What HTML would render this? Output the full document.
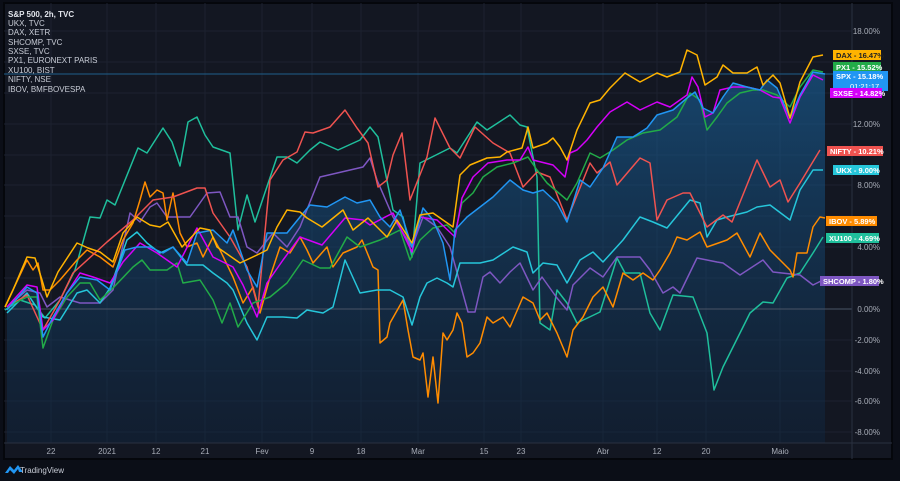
<!DOCTYPE html>
<html><head><meta charset="utf-8"><style>
html,body{margin:0;padding:0;background:#0b0e17;width:900px;height:481px;overflow:hidden}
svg{display:block}
text{font-family:"Liberation Sans",sans-serif}
</style></head><body>
<svg width="900" height="481" viewBox="0 0 900 481">
<defs>
<linearGradient id="g" x1="0" y1="0" x2="0" y2="1">
<stop offset="0" stop-color="#1a6aa8" stop-opacity="0.55"/>
<stop offset="1" stop-color="#0e2a48" stop-opacity="0.35"/>
</linearGradient>
</defs>
<rect x="0" y="0" width="900" height="481" fill="#0b0e17"/>
<rect x="4" y="3" width="888" height="456" fill="#131722" stroke="#05070c" stroke-width="2"/>
<g stroke="#1c2230" stroke-width="1">
<line x1="4" y1="31" x2="852" y2="31"/><line x1="4" y1="62" x2="852" y2="62"/><line x1="4" y1="93" x2="852" y2="93"/><line x1="4" y1="124" x2="852" y2="124"/><line x1="4" y1="155" x2="852" y2="155"/><line x1="4" y1="185" x2="852" y2="185"/><line x1="4" y1="216" x2="852" y2="216"/><line x1="4" y1="247" x2="852" y2="247"/><line x1="4" y1="278" x2="852" y2="278"/><line x1="4" y1="340" x2="852" y2="340"/><line x1="4" y1="371" x2="852" y2="371"/><line x1="4" y1="401" x2="852" y2="401"/><line x1="4" y1="432" x2="852" y2="432"/>
<line x1="51" y1="3" x2="51" y2="443"/><line x1="107" y1="3" x2="107" y2="443"/><line x1="156" y1="3" x2="156" y2="443"/><line x1="205" y1="3" x2="205" y2="443"/><line x1="262" y1="3" x2="262" y2="443"/><line x1="312" y1="3" x2="312" y2="443"/><line x1="361" y1="3" x2="361" y2="443"/><line x1="418" y1="3" x2="418" y2="443"/><line x1="484" y1="3" x2="484" y2="443"/><line x1="521" y1="3" x2="521" y2="443"/><line x1="603" y1="3" x2="603" y2="443"/><line x1="657" y1="3" x2="657" y2="443"/><line x1="706" y1="3" x2="706" y2="443"/><line x1="780" y1="3" x2="780" y2="443"/>
</g>
<polygon fill="url(#g)" points="7,310 27,287 37,293 43,337 53,317 67,293 80,277 97,280 110,290 125,250 137,247 150,247 163,253 173,247 187,263 197,233 213,230 227,243 233,230 247,270 257,287 267,233 287,233 300,217 310,205 327,207 345,197 357,203 370,200 380,217 390,227 400,210 412,247 423,208 433,220 443,243 450,280 455,230 467,217 480,207 493,197 510,180 523,190 533,193 543,190 557,203 567,222 580,180 590,187 603,168 617,137 633,137 647,128 657,115 673,110 687,98 695,92 703,108 713,113 723,97 733,83 747,87 760,90 767,80 777,88 790,118 800,95 813,72 825,74 825,443 7,443"/>
<line x1="4" y1="309" x2="852" y2="309" stroke="#4a5466" stroke-width="1"/>
<line x1="4" y1="74" x2="852" y2="74" stroke="#1f5f8c" stroke-width="1"/>
<line x1="852" y1="3" x2="852" y2="459" stroke="#2a3040" stroke-width="1"/>
<line x1="4" y1="443" x2="892" y2="443" stroke="#2a3040" stroke-width="1"/>
<g fill="none" stroke-width="1.5" stroke-linejoin="round">
<polyline stroke="#1fbf9c" points="5,310 20,300 35,305 45,318 60,300 75,270 90,217 100,218 107,200 115,205 138,148 147,153 163,128 172,142 180,166 188,122 197,117 205,135 213,147 230,153 238,230 247,195 255,222 277,157 287,157 297,163 310,150 320,142 338,150 360,140 370,127 378,137 393,210 403,217 412,257 420,163 450,148 457,153 477,122 487,130 510,115 520,125 527,127 537,177 540,323 550,330 557,290 567,303 577,323 600,312 617,258 625,273 640,273 650,313 660,330 673,295 693,297 707,333 714,390 723,367 740,333 750,313 763,302 773,303 787,278 800,273 813,253 823,237"/>
<polyline stroke="#7e57c2" points="7,307 27,290 40,293 47,307 60,297 80,303 100,303 113,290 130,213 140,222 150,207 157,203 167,217 190,217 207,193 220,192 230,217 238,217 247,247 257,253 273,233 287,247 300,227 320,177 363,167 370,158 377,180 393,217 412,247 423,217 437,227 450,247 468,312 475,312 483,277 490,272 500,283 510,272 520,263 533,290 542,277 557,298 567,310 573,285 590,268 603,277 617,257 640,257 650,270 663,293 673,287 680,293 697,258 717,262 723,263 740,275 763,260 773,272 800,275 813,285 823,280"/>
<polyline stroke="#ff8c00" points="5,307 27,260 33,270 38,263 43,290 50,290 60,280 77,260 87,250 100,257 113,267 123,240 133,223 140,200 145,182 150,197 157,190 163,193 167,220 173,193 180,233 187,247 197,243 203,257 213,237 220,250 233,277 243,303 253,287 260,313 270,277 280,247 290,253 300,237 307,250 313,263 327,247 333,267 343,253 357,247 362,240 373,267 378,270 380,343 387,337 390,323 403,300 408,330 413,357 420,360 423,353 428,397 433,357 438,403 443,333 447,340 453,330 457,313 462,323 467,357 473,353 480,343 487,317 493,323 503,317 510,327 523,297 533,303 540,320 547,313 557,333 567,357 573,330 583,317 593,297 603,287 613,307 623,273 633,280 643,273 653,280 660,270 670,253 677,237 687,240 700,232 707,247 727,240 737,233 750,257 760,233 770,250 780,260 790,270 793,277 797,253 807,253 813,227 820,217 825,218"/>
<polyline stroke="#26c6da" points="7,313 27,293 43,317 60,320 77,293 87,290 100,303 110,288 127,240 137,232 147,243 160,253 173,247 187,265 203,265 213,273 227,283 233,290 247,323 257,340 267,317 283,317 297,318 307,310 323,313 333,307 345,260 360,293 377,290 390,290 403,297 412,325 420,297 427,283 437,278 447,283 453,287 460,263 480,263 493,260 513,247 527,252 533,273 543,263 557,265 567,283 580,260 593,252 603,262 623,240 640,217 653,222 667,228 690,200 700,203 707,237 717,220 727,217 747,212 757,207 770,205 790,220 800,190 813,170 823,170"/>
<polyline stroke="#ef5350" points="7,307 27,295 43,330 60,300 73,273 107,242 133,220 153,200 173,197 197,188 205,188 213,213 230,237 247,267 258,307 267,210 270,180 283,160 297,152 305,132 313,133 330,127 345,110 357,128 368,143 378,187 387,180 393,155 402,133 410,200 427,157 435,118 450,148 460,158 475,127 493,143 510,153 523,187 537,172 550,177 567,220 590,163 597,173 610,162 617,185 640,158 650,163 657,220 667,200 683,193 690,193 707,227 723,215 732,222 757,160 770,187 780,180 788,202 800,183 820,150"/>
<polyline stroke="#22ab48" points="7,307 27,297 37,297 43,348 53,320 67,297 80,283 90,283 100,300 113,288 133,267 142,260 150,270 167,270 177,263 183,283 200,280 213,300 222,323 230,303 238,327 253,303 270,297 287,283 303,260 320,268 330,268 347,237 360,247 380,240 400,230 410,260 420,240 433,228 447,225 455,233 462,203 473,193 483,177 497,167 513,163 528,157 537,170 547,183 567,200 577,183 590,153 600,158 613,150 627,140 643,133 660,130 677,117 690,93 700,100 707,130 717,117 727,103 740,93 753,90 763,90 777,95 790,107 800,87 813,70 823,72"/>
<polyline stroke="#d500f9" points="7,307 27,285 37,287 43,330 53,320 67,293 80,273 93,277 110,283 123,262 140,243 157,253 177,267 197,228 213,257 233,267 243,285 257,317 267,283 283,260 300,237 322,245 345,218 363,220 370,225 393,213 412,252 420,217 437,220 455,237 462,198 473,177 488,163 507,160 520,160 528,147 533,160 553,165 565,177 570,153 577,150 587,140 597,127 610,112 627,102 640,110 657,102 670,107 687,95 692,77 698,87 705,117 713,113 720,90 733,87 747,87 760,90 773,97 780,98 790,123 800,97 813,75 823,80"/>
<polyline stroke="#2196f3" points="7,310 27,287 37,293 43,337 53,317 67,293 80,277 97,280 110,290 125,250 137,247 150,247 163,253 173,247 187,263 197,233 213,230 227,243 233,230 247,270 257,287 267,233 287,233 300,217 310,205 327,207 345,197 357,203 370,200 380,217 390,227 400,210 412,247 423,208 433,220 443,243 450,280 455,230 467,217 480,207 493,197 510,180 523,190 533,193 543,190 557,203 567,222 580,180 590,187 603,168 617,137 633,137 647,128 657,115 673,110 687,98 695,92 703,108 713,113 723,97 733,83 747,87 760,90 767,80 777,88 790,118 800,95 813,72 825,74"/>
<polyline stroke="#ffb300" points="5,307 13,290 27,257 35,258 42,280 47,297 58,272 77,243 88,248 100,252 113,262 123,233 137,217 150,225 160,227 168,222 182,247 200,228 210,230 217,247 240,263 257,255 267,250 277,227 287,210 300,212 307,218 322,227 343,210 353,230 368,218 387,237 397,220 412,243 420,215 433,213 453,227 460,175 470,165 487,158 500,157 507,152 522,148 528,127 533,148 547,143 553,138 560,147 567,160 577,130 590,103 600,100 610,88 625,73 640,82 657,73 667,77 680,72 687,50 697,55 705,85 717,77 723,65 733,73 747,73 757,67 763,85 773,75 780,83 790,118 800,82 813,57 823,55"/>
</g>
<g fill="#a8adb8" font-size="8" text-anchor="end">
<text x="880" y="34">18.00%</text><text x="880" y="127">12.00%</text><text x="880" y="188">8.00%</text><text x="880" y="250">4.00%</text><text x="880" y="312">0.00%</text><text x="880" y="343">-2.00%</text><text x="880" y="374">-4.00%</text><text x="880" y="404">-6.00%</text><text x="880" y="435">-8.00%</text>
</g>
<g font-size="7.5" font-weight="bold" fill="#fff">
<rect x="833" y="50" width="48" height="10" fill="#ffb300"/><text x="836" y="58" fill="#222">DAX - 16.47%</text>
<rect x="833" y="62" width="48" height="10" fill="#22ab48"/><text x="836" y="70">PX1 - 15.52%</text>
<rect x="833" y="71" width="55" height="20" fill="#2196f3"/><text x="836" y="79">SPX - 15.18%</text><text x="850" y="89" font-weight="normal">01:21:17</text>
<rect x="830" y="88" width="52" height="10" fill="#d500f9"/><text x="833" y="96">SXSE - 14.82%</text>
<rect x="827" y="146" width="56" height="10" fill="#ef5350"/><text x="830" y="154">NIFTY - 10.21%</text>
<rect x="833" y="165" width="46" height="10" fill="#26c6da"/><text x="836" y="173">UKX - 9.00%</text>
<rect x="826" y="216" width="51" height="10" fill="#ff8c00"/><text x="829" y="224">IBOV - 5.89%</text>
<rect x="826" y="233" width="53" height="10" fill="#1fbf9c"/><text x="829" y="241">XU100 - 4.69%</text>
<rect x="820" y="276" width="59" height="10" fill="#7e57c2"/><text x="823" y="284">SHCOMP - 1.80%</text>
</g>
<g fill="#a8adb8" font-size="8" text-anchor="middle">
<text x="51" y="454">22</text><text x="107" y="454">2021</text><text x="156" y="454">12</text><text x="205" y="454">21</text><text x="262" y="454">Fev</text><text x="312" y="454">9</text><text x="361" y="454">18</text><text x="418" y="454">Mar</text><text x="484" y="454">15</text><text x="521" y="454">23</text><text x="603" y="454">Abr</text><text x="657" y="454">12</text><text x="706" y="454">20</text><text x="780" y="454">Maio</text>
</g>
<g fill="#c8ccd6" font-size="8">
<text x="8" y="17" font-weight="bold" fill="#e0e3ea">S&amp;P 500, 2h, TVC</text>
<text x="8" y="26">UKX, TVC</text><text x="8" y="35">DAX, XETR</text><text x="8" y="45">SHCOMP, TVC</text><text x="8" y="54">SXSE, TVC</text><text x="8" y="63">PX1, EURONEXT PARIS</text><text x="8" y="73">XU100, BIST</text><text x="8" y="82">NIFTY, NSE</text><text x="8" y="92">IBOV, BMFBOVESPA</text>
</g>
<path d="M5,473 L10,466 L14,470 L18,465 L23,472 L19,472 L18,469 L14,474 L10,470 L8,473 Z" fill="#2196f3"/>
<text x="20" y="473" fill="#c8ccd6" font-size="8">TradingView</text>
</svg>
</body></html>
